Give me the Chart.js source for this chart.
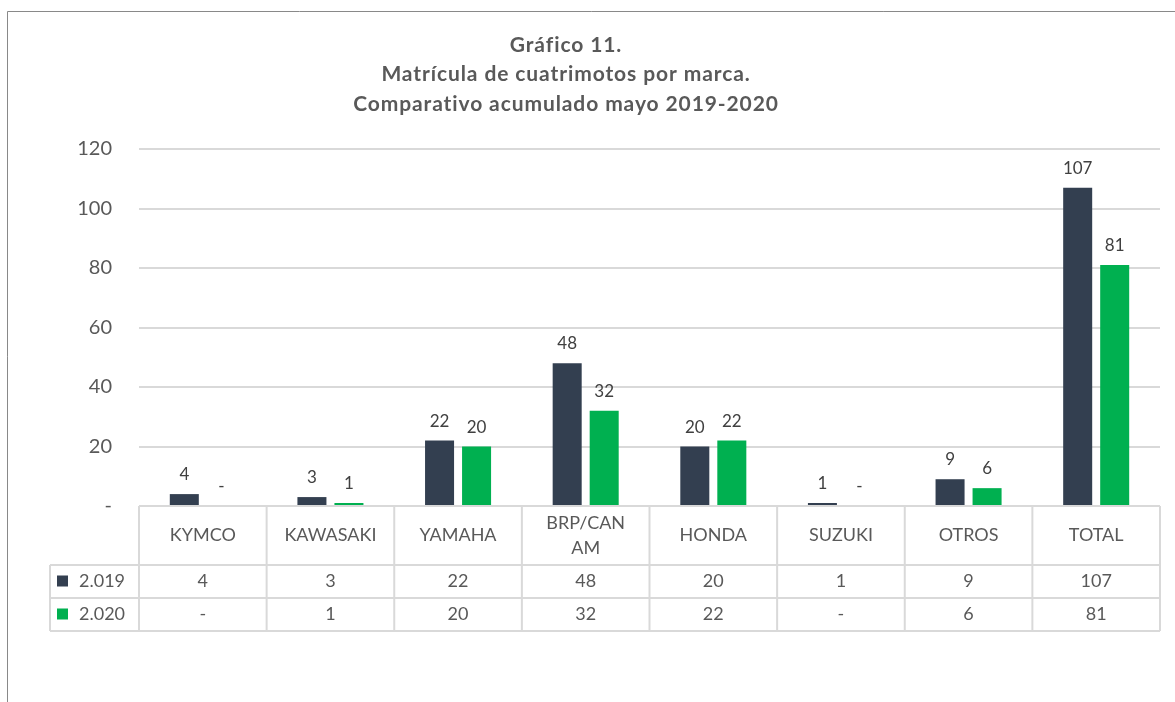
<!DOCTYPE html>
<html>
<head>
<meta charset="utf-8">
<script src="https://cdn.jsdelivr.net/npm/chart.js@4.4.1/dist/chart.umd.min.js"></script>
<style>
  html, body { margin: 0; padding: 0; background: #fff; }
  #wrap { width: 1175px; height: 702px; }
</style>
</head>
<body>
<div id="wrap"><canvas id="chart" width="1175" height="702"></canvas></div>
<script>
// datos del gráfico
const titleLines = ['Gráfico 11.', 'Matrícula de cuatrimotos por marca.', 'Comparativo acumulado mayo 2019-2020'];
const categories = ['KYMCO', 'KAWASAKI', 'YAMAHA', 'BRP/CAN AM', 'HONDA', 'SUZUKI', 'OTROS', 'TOTAL'];
const seriesNames = ['2.019', '2.020'];
const values2019 = [4, 3, 22, 48, 20, 1, 9, 107];
const values2020 = [0, 1, 20, 32, 22, 0, 6, 81];
const yTicks = [0, 20, 40, 60, 80, 100, 120];

const seriesColors = ['#333F50', '#00B050'];
const textColor = '#595959';
const lineColor = '#d9d9d9';
const font = 'Lato, "Open Sans", sans-serif';

// cero se muestra como guion
const fmt = v => (v === 0 ? '-' : String(v));

// marco y título
const frameTitle = {
  id: 'frameTitle',
  beforeDraw(chart) {
    const ctx = chart.ctx;
    ctx.save();
    ctx.fillStyle = '#fff';
    ctx.fillRect(0, 0, chart.width, chart.height);
    ctx.strokeStyle = '#898989';
    ctx.lineWidth = 1;
    ctx.beginPath();
    ctx.moveTo(7.5, chart.height);
    ctx.lineTo(7.5, 11.5);
    ctx.lineTo(chart.width, 11.5);
    ctx.stroke();
    ctx.fillStyle = textColor;
    ctx.font = 'bold 21px ' + font;
    ctx.letterSpacing = '0.9px';
    ctx.textAlign = 'center';
    ctx.textBaseline = 'middle';
    titleLines.forEach((t, i) => ctx.fillText(t, 566, 45 + i * 29.5));
    ctx.restore();
  }
};

// etiquetas sobre las barras
const barLabels = {
  id: 'barLabels',
  afterDatasetsDraw(chart) {
    const ctx = chart.ctx;
    ctx.save();
    ctx.font = '17px ' + font;
    ctx.fillStyle = '#404040';
    ctx.textAlign = 'center';
    ctx.textBaseline = 'alphabetic';
    chart.data.datasets.forEach((ds, i) => {
      chart.getDatasetMeta(i).data.forEach((bar, j) => {
        ctx.fillText(fmt(ds.data[j]), bar.x, bar.y - 14);
      });
    });
    ctx.restore();
  }
};

// tabla de datos bajo el eje
const dataTable = {
  id: 'dataTable',
  afterDraw(chart) {
    const ctx = chart.ctx;
    const area = chart.chartArea;
    const xs = chart.scales.x;
    const n = categories.length;
    const colW = (area.right - area.left) / n;
    const top = area.bottom;
    const headH = 59, rowH = 33, leftX = 50;
    const rowsTop = top + headH;
    const bottom = rowsTop + rowH * seriesNames.length;

    ctx.save();
    ctx.strokeStyle = lineColor;
    ctx.lineWidth = 2;
    ctx.beginPath();
    ctx.moveTo(area.left, top);
    ctx.lineTo(area.right, top);
    for (let r = 0; r <= seriesNames.length; r++) {
      ctx.moveTo(leftX, rowsTop + r * rowH);
      ctx.lineTo(area.right, rowsTop + r * rowH);
    }
    for (let k = 0; k <= n; k++) {
      const x = area.left + k * colW;
      ctx.moveTo(x, top);
      ctx.lineTo(x, bottom);
    }
    ctx.moveTo(leftX, rowsTop);
    ctx.lineTo(leftX, bottom);
    ctx.stroke();

    ctx.fillStyle = textColor;
    ctx.font = '18px ' + font;
    ctx.textAlign = 'center';
    ctx.textBaseline = 'middle';

    // encabezados (con ajuste de línea)
    categories.forEach((c, i) => {
      const cx = xs.getPixelForValue(i);
      let lines = [c];
      if (ctx.measureText(c).width > colW * 0.76 && c.includes(' ')) {
        const p = c.lastIndexOf(' ');
        lines = [c.slice(0, p), c.slice(p + 1)];
      }
      const cy = top + headH / 2;
      lines.forEach((l, k) => ctx.fillText(l, cx, cy + (k - (lines.length - 1) / 2) * 25));
    });

    // filas de series
    chart.data.datasets.forEach((ds, r) => {
      const cy = rowsTop + r * rowH + rowH / 2;
      ctx.fillStyle = ds.backgroundColor;
      ctx.fillRect(57, cy - 6, 11, 11);
      ctx.fillStyle = textColor;
      ctx.textAlign = 'left';
      ctx.fillText(ds.label, 79, cy);
      ctx.textAlign = 'center';
      ds.data.forEach((v, i) => ctx.fillText(fmt(v), xs.getPixelForValue(i), cy));
    });
    ctx.restore();
  }
};

new Chart(document.getElementById('chart'), {
  type: 'bar',
  data: {
    labels: categories,
    datasets: [
      { label: seriesNames[0], data: values2019, backgroundColor: seriesColors[0] },
      { label: seriesNames[1], data: values2020, backgroundColor: seriesColors[1] }
    ]
  },
  options: {
    responsive: false,
    animation: false,
    devicePixelRatio: 1,
    categoryPercentage: 0.58,
    barPercentage: 0.784,
    layout: { padding: { top: 149, right: 15, bottom: 196, left: 0 } },
    plugins: {
      legend: { display: false },
      title: { display: false },
      tooltip: { enabled: false }
    },
    scales: {
      x: { display: false },
      y: {
        min: yTicks[0],
        max: yTicks[yTicks.length - 1],
        afterFit(s) { s.width = 139; },
        afterBuildTicks(s) { s.ticks = yTicks.map(v => ({ value: v })); },
        border: { display: false },
        grid: { color: lineColor, lineWidth: 2, drawTicks: false },
        ticks: {
          padding: 27,
          color: textColor,
          font: { family: font, size: 20 },
          callback: v => fmt(v)
        }
      }
    }
  },
  plugins: [frameTitle, barLabels, dataTable]
});
</script>
</body>
</html>
